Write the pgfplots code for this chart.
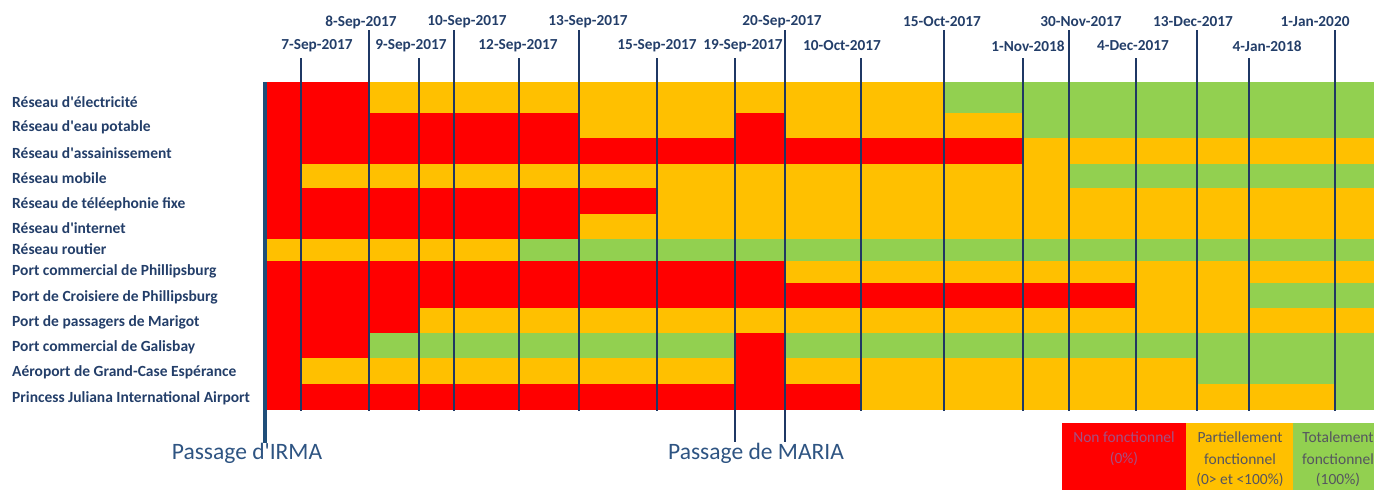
\documentclass[border=0pt]{standalone}
\usepackage{pgfplots}
\pgfplotsset{compat=1.18}
\usepackage{fontspec}
\setmainfont{Carlito}
\definecolor{cR}{RGB}{255,0,0}
\definecolor{cY}{RGB}{255,192,0}
\definecolor{cG}{RGB}{146,208,80}
\definecolor{navy}{RGB}{31,56,100}
\definecolor{lab}{RGB}{35,62,105}
\definecolor{pas}{RGB}{46,84,130}
\definecolor{bar}{RGB}{31,78,121}
\definecolor{legR}{RGB}{165,80,130}
\definecolor{legT}{RGB}{85,85,95}
\newcommand{\q}{\textquotesingle}
\newcommand{\cell}[5]{\addplot[fill=#5, draw=#5, line width=0.3pt, forget plot] coordinates {(#1,#3) (#2,#3) (#2,#4) (#1,#4)} -- cycle;}
\newcommand{\dline}[3]{\addplot[navy, line width=1.1pt, forget plot] coordinates {(#1,#2) (#1,#3)};}
\begin{document}
\begin{tikzpicture}
\begin{axis}[scale only axis, width=1374pt, height=490pt,
  xmin=0, xmax=1374, ymin=0, ymax=490, y dir=reverse,
  hide axis, clip=false]
% R1 electricite
\cell{267}{369}{82}{113}{cR}
\cell{369}{944}{82}{113}{cY}
\cell{944}{1374}{82}{113}{cG}
% R2 eau potable
\cell{267}{579}{113}{138}{cR}
\cell{579}{735}{113}{138}{cY}
\cell{735}{785}{113}{138}{cR}
\cell{785}{1023}{113}{138}{cY}
\cell{1023}{1374}{113}{138}{cG}
% R3 assainissement
\cell{267}{1023}{138}{164}{cR}
\cell{1023}{1374}{138}{164}{cY}
% R4 mobile
\cell{267}{301}{164}{188}{cR}
\cell{301}{1069}{164}{188}{cY}
\cell{1069}{1374}{164}{188}{cG}
% R5 telephonie
\cell{267}{657}{188}{214}{cR}
\cell{657}{1374}{188}{214}{cY}
% R6 internet
\cell{267}{579}{214}{239}{cR}
\cell{579}{1374}{214}{239}{cY}
% R7 routier
\cell{267}{519}{239}{261}{cY}
\cell{519}{1374}{239}{261}{cG}
% R8 port commercial Phillipsburg
\cell{267}{785}{261}{283}{cR}
\cell{785}{1374}{261}{283}{cY}
% R9 croisiere
\cell{267}{1136}{283}{308}{cR}
\cell{1136}{1249}{283}{308}{cY}
\cell{1249}{1374}{283}{308}{cG}
% R10 Marigot
\cell{267}{419}{308}{333}{cR}
\cell{419}{1374}{308}{333}{cY}
% R11 Galisbay
\cell{267}{369}{333}{358}{cR}
\cell{369}{735}{333}{358}{cG}
\cell{735}{785}{333}{358}{cR}
\cell{785}{1374}{333}{358}{cG}
% R12 Grand-Case
\cell{267}{301}{358}{384}{cR}
\cell{301}{735}{358}{384}{cY}
\cell{735}{785}{358}{384}{cR}
\cell{785}{1197}{358}{384}{cY}
\cell{1197}{1374}{358}{384}{cG}
% R13 Princess Juliana
\cell{267}{861}{384}{409}{cR}
\cell{861}{1335}{384}{409}{cY}
\cell{1335}{1374}{384}{409}{cG}
% legend boxes
\cell{1062}{1186}{423}{490}{cR}
\cell{1186}{1293}{423}{490}{cY}
\cell{1293}{1374}{423}{490}{cG}
% date lines
\dline{301}{58}{411}
\dline{369}{30}{411}
\dline{419}{58}{411}
\dline{454}{30}{411}
\dline{519}{58}{411}
\dline{579}{30}{411}
\dline{657}{58}{411}
\dline{735}{58}{442}
\dline{785}{30}{442}
\dline{861}{58}{411}
\dline{944}{30}{411}
\dline{1023}{58}{411}
\dline{1069}{30}{411}
\dline{1136}{58}{411}
\dline{1197}{30}{411}
\dline{1249}{58}{411}
\dline{1335}{30}{411}
% IRMA bar
\addplot[bar, line width=4pt, forget plot] coordinates {(265,82) (265,443)};
% date labels
\begin{scope}[every node/.style={font=\fontsize{15.3}{17}\selectfont\bfseries, text=lab, inner sep=0pt}]
\node at (axis cs:361,22) {8-Sep-2017};
\node at (axis cs:467,22) {10-Sep-2017};
\node at (axis cs:588,22) {13-Sep-2017};
\node at (axis cs:782,22) {20-Sep-2017};
\node at (axis cs:942,22) {15-Oct-2017};
\node at (axis cs:1081,22) {30-Nov-2017};
\node at (axis cs:1193,22) {13-Dec-2017};
\node at (axis cs:1315,22) {1-Jan-2020};
\node at (axis cs:317,46) {7-Sep-2017};
\node at (axis cs:411,46) {9-Sep-2017};
\node at (axis cs:518,46) {12-Sep-2017};
\node at (axis cs:657,46) {15-Sep-2017};
\node at (axis cs:743,46) {19-Sep-2017};
\node at (axis cs:842,46) {10-Oct-2017};
\node at (axis cs:1028,46) {1-Nov-2018};
\node at (axis cs:1133,46) {4-Dec-2017};
\node at (axis cs:1267,46) {4-Jan-2018};
\end{scope}
% row labels
\begin{scope}[every node/.style={font=\fontsize{15.5}{17}\selectfont\bfseries, text=lab, inner sep=0pt, anchor=west}]
\node at (axis cs:12,102) {Réseau d\q électricité};
\node at (axis cs:12,127) {Réseau d\q eau potable};
\node at (axis cs:12,153) {Réseau d\q assainissement};
\node at (axis cs:12,178) {Réseau mobile};
\node at (axis cs:12,204) {Réseau de téléephonie fixe};
\node at (axis cs:12,228) {Réseau d\q internet};
\node at (axis cs:12,249) {Réseau routier};
\node at (axis cs:12,271) {Port commercial de Phillipsburg};
\node at (axis cs:12,297) {Port de Croisiere de Phillipsburg};
\node at (axis cs:12,322) {Port de passagers de Marigot};
\node at (axis cs:12,347) {Port commercial de Galisbay};
\node at (axis cs:12,372) {Aéroport de Grand-Case Espérance};
\node at (axis cs:12,398) {Princess Juliana International Airport};
\end{scope}
% passage labels
\node[font=\fontsize{23.5}{26}\selectfont, text=pas, inner sep=0pt] at (axis cs:247,453) {Passage d\q IRMA};
\node[font=\fontsize{23.5}{26}\selectfont, text=pas, inner sep=0pt] at (axis cs:756,453) {Passage de MARIA};
% legend text
\begin{scope}[every node/.style={font=\fontsize{15.5}{17}\selectfont, inner sep=0pt}]
\node[text=legR] at (axis cs:1124,437) {Non fonctionnel};
\node[text=legR] at (axis cs:1124,459) {(0\%)};
\node[text=legT] at (axis cs:1240,437) {Partiellement};
\node[text=legT] at (axis cs:1240,459) {fonctionnel};
\node[text=legT] at (axis cs:1240,480) {(0> et <100\%)};
\node[text=legT] at (axis cs:1338,437) {Totalement};
\node[text=legT] at (axis cs:1338,459) {fonctionnel};
\node[text=legT] at (axis cs:1338,480) {(100\%)};
\end{scope}
\coordinate (BL) at (axis cs:0,490);
\coordinate (TR) at (axis cs:1374,0);
\end{axis}
\pgfresetboundingbox
\useasboundingbox (BL) rectangle (TR);
\end{tikzpicture}
\end{document}
